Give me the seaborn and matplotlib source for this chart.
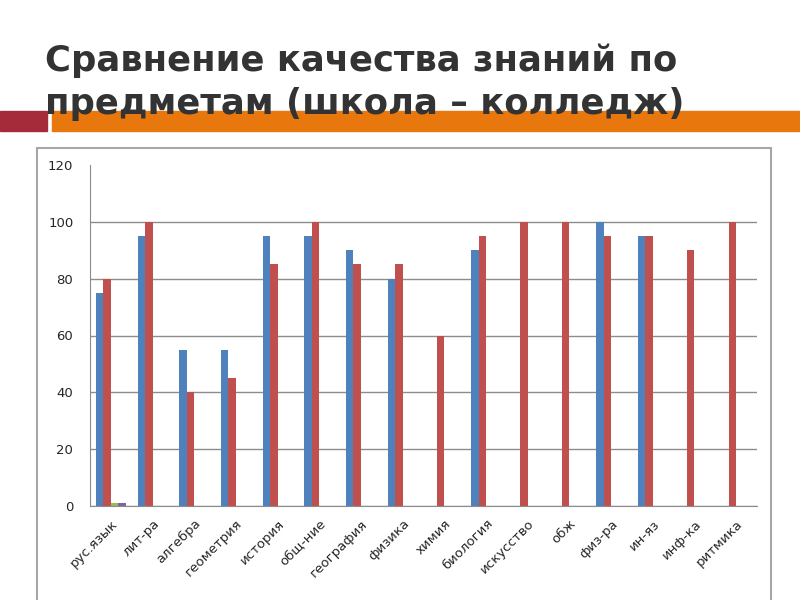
import pandas as pd
import seaborn as sns
import numpy as np
import matplotlib.pyplot as plt
from matplotlib.patches import Rectangle

# subjects and quality of knowledge (%)
subjects = ['рус.язык', 'лит-ра', 'алгебра', 'геометрия', 'история', 'общ-ние',
            'география', 'физика', 'химия', 'биология', 'искусство', 'обж',
            'физ-ра', 'ин-яз', 'инф-ка', 'ритмика']
school = [75, 95, 55, 55, 95, 95, 90, 80, np.nan, 90, np.nan, np.nan, 100, 95, np.nan, np.nan]
college = [80, 100, 40, 45, 85, 100, 85, 85, 60, 95, 100, 100, 95, 95, 90, 100]
series3 = [1] + [np.nan] * 15
series4 = [1] + [np.nan] * 15
series_names = ['школа', 'колледж', 'ряд 3', 'ряд 4']
colors = ['#4F81BD', '#C0504D', '#9BBB59', '#8064A2']

rows = []
for name, vals in zip(series_names, [school, college, series3, series4]):
    for s, v in zip(subjects, vals):
        rows.append({'subject': s, 'series': name, 'value': v})
df = pd.DataFrame(rows)

sns.set_style('white')
plt.rcParams['font.family'] = ['DejaVu Sans']

fig = plt.figure(figsize=(8, 6), dpi=100)
fig.patch.set_facecolor('white')

# title and decorative bars
fig.text(45 / 800, 1 - 44 / 600, 'Сравнение качества знаний по\nпредметам (школа – колледж)',
         fontsize=25.5, fontweight='bold', color='#333333', va='top', ha='left',
         linespacing=1.33, zorder=5)
fig.patches.append(Rectangle((0, 1 - 131 / 600), 47 / 800, 20 / 600,
                             transform=fig.transFigure, color='#A52A3A', zorder=1))
fig.patches.append(Rectangle((52 / 800, 1 - 131 / 600), 748 / 800, 20 / 600,
                             transform=fig.transFigure, color='#E8780E', zorder=1))
# chart frame
fig.patches.append(Rectangle((37 / 800, -0.05), 734 / 800, 1.05 - 148 / 600,
                             transform=fig.transFigure, fill=False,
                             edgecolor='#A6A6A6', lw=1.5, zorder=1))

ax = fig.add_axes([90 / 800, 1 - 506 / 600, 667 / 800, 341 / 600])
sns.barplot(data=df, x='subject', y='value', hue='series', palette=colors,
            width=0.72, saturation=1, errorbar=None, legend=False,
            linewidth=0, ax=ax)

ax.set_ylim(0, 120)
ax.set_xlim(-0.5, len(subjects) - 0.5)
ax.set_yticks(range(0, 121, 20))
ax.yaxis.grid(True, color='#8C8C8C', lw=1)
ax.get_ygridlines()[-1].set_visible(False)
ax.set_axisbelow(True)
ax.set_xlabel('')
ax.set_ylabel('')
for side in ['top', 'right']:
    ax.spines[side].set_visible(False)
for side in ['left', 'bottom']:
    ax.spines[side].set_color('#8C8C8C')
ax.set_xticks(np.arange(-0.5, len(subjects)), minor=True)
ax.tick_params(axis='x', which='minor', length=5, color='#8C8C8C', direction='out')
ax.tick_params(axis='x', which='major', length=0, pad=8)
ax.tick_params(axis='y', length=0, labelsize=9.5, pad=12)
ax.set_xticks(range(len(subjects)))
ax.set_xticklabels(subjects, rotation=45, ha='right', rotation_mode='anchor', fontsize=9.5)

fig.savefig('out.png', dpi=100)
